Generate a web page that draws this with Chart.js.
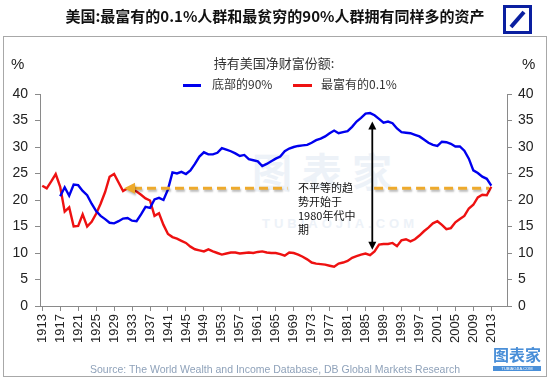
<!DOCTYPE html>
<html><head><meta charset="utf-8">
<script src="https://cdn.jsdelivr.net/npm/chart.js@4/dist/chart.umd.min.js"></script>
<style>
html,body{margin:0;padding:0;background:#fff;}
#wrap{position:relative;width:550px;height:379px;overflow:hidden;font-family:"Liberation Sans",Arial,"Noto Sans CJK SC",sans-serif;}
canvas{position:absolute;left:0;top:0;}
.t{position:absolute;white-space:nowrap;line-height:1;}
.cjk{font-family:"Noto Sans CJK SC","Liberation Sans",sans-serif;}
</style></head><body>
<div id="wrap">
  <div style="position:absolute;left:3px;top:36px;width:542px;height:339px;border:1px solid #a8a8a8;"></div>
  <div class="t cjk" style="left:252px;top:150px;font-size:40px;letter-spacing:10px;color:#edf2f8;font-weight:bold;">图表家</div>
  <div class="t" style="left:262px;top:217px;font-size:13px;letter-spacing:4px;color:#edf2f8;font-weight:bold;">TUBIAOJIA.COM</div>
  <canvas id="c" width="550" height="379"></canvas>
  <div class="t cjk" style="left:0;width:550px;text-align:center;top:8px;font-size:15px;font-weight:bold;color:#111;">美国:最富有的0.1%人群和最贫穷的90%人群拥有同样多的资产</div>
  <svg style="position:absolute;left:503px;top:5px;" width="29" height="29" viewBox="0 0 29 29">
    <rect x="1.5" y="1.5" width="26" height="26" fill="none" stroke="#0a1fa0" stroke-width="3"/>
    <line x1="8" y1="22" x2="21" y2="7" stroke="#0a1fa0" stroke-width="4"/>
  </svg>
  <div class="t" style="left:11px;top:56px;font-size:15px;color:#222;">%</div>
  <div class="t" style="left:522px;top:56px;font-size:15px;color:#222;">%</div>
  <div class="t cjk" style="left:0;width:548px;text-align:center;top:56px;font-size:13px;color:#333;">持有美国净财富份额:</div>
  <div style="position:absolute;left:183px;top:84px;width:18px;height:2.5px;background:#0000ee;"></div>
  <div class="t cjk" style="left:212px;top:78px;font-size:12px;color:#333;">底部的90%</div>
  <div style="position:absolute;left:293px;top:84px;width:19px;height:2.5px;background:#ee1111;"></div>
  <div class="t cjk" style="left:321px;top:78px;font-size:12px;color:#333;">最富有的0.1%</div>
  <div class="t cjk" style="left:298px;top:180px;font-size:11px;line-height:14px;color:#111;">不平等的趋<br>势开始于<br>1980年代中<br>期</div>
  <div class="t" style="left:0;width:550px;text-align:center;top:364px;font-size:10.5px;color:#8fa2ba;">Source: The World Wealth and Income Database, DB Global Markets Research</div>
  <div class="t cjk" style="left:493px;top:346px;font-size:16px;color:#4a8fd8;font-weight:bold;">图表家</div>
  <div class="t" style="left:493px;top:366px;width:48px;height:5px;background:#4a8fd8;color:#fff;font-size:4px;text-align:center;line-height:5px;">TUBIAOJIA.COM</div>
</div>
<script>
// Categories: years on the x axis
const firstYear = 1913, lastYear = 2016;
const years = [];
for (let y = firstYear; y <= lastYear; y++) years.push(String(y));

// Share of US net wealth held by the bottom 90% (%), 1913-2013
const bottom90 = [
  null, null, null, null, 20.7, 22.4, 20.8, 22.9, 22.8, 21.7,   // 1913-1922
  20.9, 19.3, 17.9, 17.0, 16.4, 15.7, 15.6, 16.0, 16.5, 16.6,   // 1923-1932
  16.1, 16.0, 17.3, 18.7, 18.5, 20.1, 20.4, 20.0, 22.0, 25.2,   // 1933-1942
  25.0, 25.3, 24.9, 25.6, 26.8, 28.2, 29.0, 28.6, 28.6, 28.9,   // 1943-1952
  29.8, 29.5, 29.2, 28.8, 28.3, 28.5, 27.7, 27.5, 27.3, 26.4,   // 1953-1962
  26.8, 27.3, 27.8, 28.2, 29.2, 29.7, 30.0, 30.2, 30.3, 30.4,   // 1963-1972
  30.8, 31.3, 31.6, 32.0, 32.6, 33.1, 32.6, 32.8, 33.0, 33.8,   // 1973-1982
  34.8, 35.5, 36.3, 36.4, 36.0, 35.3, 34.6, 34.8, 34.5, 33.5,   // 1983-1992
  32.8, 32.7, 32.6, 32.3, 32.0, 31.4, 30.8, 30.4, 30.2, 31.0,   // 1993-2002
  30.9, 30.6, 30.1, 30.1, 29.3, 27.8, 25.6, 25.1, 24.4, 24.0,   // 2003-2012
  22.7                                                          // 2013
];

// Share of US net wealth held by the top 0.1% (%), 1913-2013
const top01 = [
  22.7, 22.2, 23.5, 24.9, 22.5, 17.8, 18.6, 15.0, 15.1, 17.3,   // 1913-1922
  15.0, 15.9, 17.4, 19.3, 21.5, 24.4, 24.9, 23.3, 21.7, 22.2,   // 1923-1932
  22.0, 21.6, 21.0, 20.3, 19.9, 17.0, 17.5, 15.3, 13.6, 13.0,   // 1933-1942
  12.7, 12.3, 11.9, 11.2, 10.7, 10.5, 10.3, 10.7, 10.3, 10.0,   // 1943-1952
   9.7,  9.9, 10.1, 10.1,  9.9, 10.0, 10.1, 10.0, 10.2, 10.3,   // 1953-1962
  10.1, 10.0, 10.0,  9.8,  9.5, 10.1, 10.0,  9.7,  9.3,  8.8,   // 1963-1972
   8.2,  8.0,  7.9,  7.8,  7.6,  7.4,  8.0,  8.2,  8.5,  9.1,   // 1973-1982
   9.4,  9.7,  9.9,  9.6, 10.3, 11.6, 11.7, 11.7, 11.9, 11.3,   // 1983-1992
  12.4, 12.6, 12.2, 12.6, 13.3, 14.1, 14.8, 15.6, 16.0, 15.3,   // 1993-2002
  14.5, 14.7, 15.8, 16.4, 17.0, 18.4, 19.1, 20.5, 21.0, 20.9,   // 2003-2012
  22.5                                                          // 2013
];

// Y-axis tick range (%)
const yMin = 0, yMax = 40, yStep = 5;
const labelEvery = 4;

// Annotation anchors (data coordinates)
const equalShare = 22.2;                 // dashed reference level
const dash1 = [1931.2, 1967.6];          // first dashed run (arrow at left end)
const dash2 = [1986.9, 2012.5];          // second dashed run
const arrowYear = 1986.5, arrowTop = 34.8, arrowBottom = 10.6;

const annot = {
  id: 'annot',
  afterDatasetsDraw(chart) {
    const ctx = chart.ctx, xs = chart.scales.x, ys = chart.scales.y;
    const px = yr => xs.getPixelForValue(yr - firstYear);
    const py = v => ys.getPixelForValue(v);
    const yl = py(equalShare);
    ctx.save();
    ctx.shadowColor = 'rgba(0,0,0,0.28)';
    ctx.shadowOffsetX = 1; ctx.shadowOffsetY = 2; ctx.shadowBlur = 2;
    ctx.strokeStyle = '#eeaa2c'; ctx.fillStyle = '#eeaa2c';
    ctx.lineWidth = 3; ctx.setLineDash([9, 5]);
    const a = px(dash1[0]);
    ctx.beginPath(); ctx.moveTo(a + 9, yl); ctx.lineTo(px(dash1[1]), yl); ctx.stroke();
    ctx.beginPath(); ctx.moveTo(px(dash2[0]), yl); ctx.lineTo(px(dash2[1]), yl); ctx.stroke();
    ctx.setLineDash([]);
    ctx.beginPath(); ctx.moveTo(a, yl); ctx.lineTo(a + 11, yl - 5.5); ctx.lineTo(a + 11, yl + 5.5); ctx.closePath(); ctx.fill();
    ctx.restore();
    // black double arrow
    ctx.save();
    const ax = px(arrowYear), t = py(arrowTop), b = py(arrowBottom);
    ctx.strokeStyle = '#000'; ctx.fillStyle = '#000'; ctx.lineWidth = 1.8;
    ctx.beginPath(); ctx.moveTo(ax, t + 6); ctx.lineTo(ax, b - 6); ctx.stroke();
    ctx.beginPath(); ctx.moveTo(ax, t); ctx.lineTo(ax - 4, t + 8); ctx.lineTo(ax + 4, t + 8); ctx.closePath(); ctx.fill();
    ctx.beginPath(); ctx.moveTo(ax, b); ctx.lineTo(ax - 4, b - 8); ctx.lineTo(ax + 4, b - 8); ctx.closePath(); ctx.fill();
    ctx.restore();
  }
};

const fam = '"Liberation Sans", Arial, sans-serif';
const yAxis = (pos, w, pad) => ({
  type: 'linear', position: pos, display: true, min: yMin, max: yMax,
  ticks: { stepSize: yStep, padding: pad, color: '#222', font: { family: fam, size: 14 } },
  grid: { drawOnChartArea: false, drawTicks: true, tickLength: 5, color: '#8a8a8a' },
  border: { display: true, color: '#8a8a8a', width: 1 },
  afterFit: s => { s.width = w; }
});

new Chart(document.getElementById('c'), {
  type: 'line',
  data: {
    labels: years,
    datasets: [
      { label: '底部的90%', data: bottom90, borderColor: '#0000ee', borderWidth: 2.4, pointRadius: 0, tension: 0, yAxisID: 'y' },
      { label: '最富有的0.1%', data: top01, borderColor: '#ee1111', borderWidth: 2.4, pointRadius: 0, tension: 0, yAxisID: 'y' }
    ]
  },
  options: {
    responsive: false, animation: false, devicePixelRatio: 1,
    layout: { padding: { top: 94, left: 0, right: 0, bottom: 0 } },
    plugins: { legend: { display: false }, tooltip: { enabled: false }, title: { display: false } },
    scales: {
      x: {
        type: 'category', offset: true,
        grid: { drawOnChartArea: false, drawTicks: true, tickLength: 5, color: '#8a8a8a', offset: false },
        border: { display: true, color: '#8a8a8a', width: 1 },
        ticks: {
          autoSkip: false, minRotation: 90, maxRotation: 90, padding: 3, color: '#222',
          font: { family: fam, size: 13 },
          callback: (v, i) => (i % labelEvery === 0 ? years[i] : null)
        },
        afterFit: s => { s.height = 73; }
      },
      y: yAxis('left', 40, 7),
      y2: yAxis('right', 43, 6)
    }
  },
  plugins: [annot]
});
</script>
</body></html>
